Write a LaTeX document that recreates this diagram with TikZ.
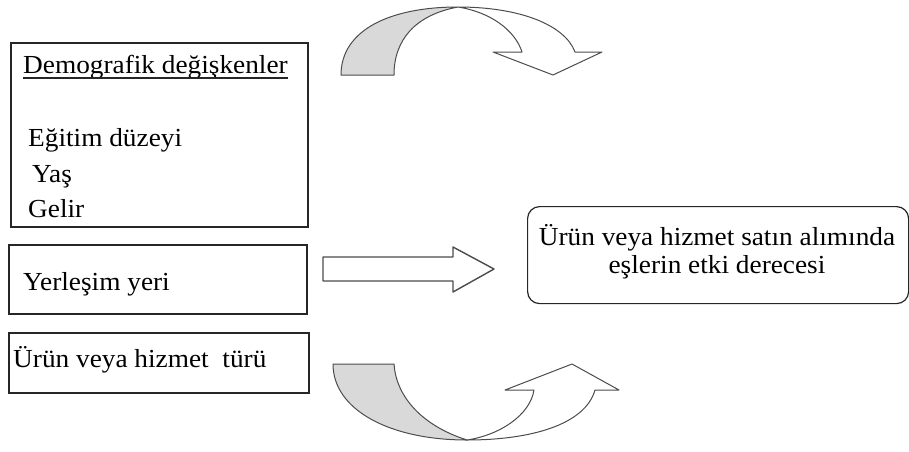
\documentclass[tikz,border=0pt]{standalone}
\usepackage{fontspec}
\setmainfont[FakeStretch=1.05]{Liberation Serif}
\begin{document}
\begin{tikzpicture}[x=1pt,y=-1pt,
  box/.style={draw=black!85, line width=1.6pt, inner sep=0pt, anchor=north west},
  rbox/.style={draw=black!85, line width=1.2pt, rounded corners=12pt, inner sep=0pt, anchor=north west},
  txt/.style={inner sep=0pt, anchor=base west, font=\fontsize{26}{30}\selectfont},
  ctxt/.style={inner sep=0pt, anchor=base, font=\fontsize{26}{30}\selectfont},
  blk/.style={draw=black!70, line width=1pt, line join=round},
  shade/.style={blk, fill=black!15},
  hollow/.style={blk, fill=white}]
\useasboundingbox (0,0) rectangle (909,451);
% boxes
\node[box, minimum width=297pt, minimum height=184pt] (demo) at (10,42) {};
\node[box, minimum width=298pt, minimum height=69pt] (yer) at (8,244) {};
\node[box, minimum width=300pt, minimum height=60pt] (tur) at (8,332) {};
\node[rbox, minimum width=381pt, minimum height=97pt] (res) at (527,206) {};
% texts
\node[txt] (t1) at (23,73) {Demografik değişkenler};
\draw[line width=1.4pt, black!85] ([yshift=-5pt]t1.base west) -- ([yshift=-5pt]t1.base east);
\node[txt] (t2) at (28,146) {Eğitim düzeyi};
\node[txt] (t3) at (32,182) {Yaş};
\node[txt] (t4) at (28,217) {Gelir};
\node[txt] (t5) at (23,290) {Yerleşim yeri};
\node[txt] (t6) at (13,367) {Ürün veya hizmet\ \ türü};
\node[ctxt] (t7) at (717,245) {Ürün veya hizmet satın alımında};
\node[ctxt] (t8) at (717,273) {eşlerin etki derecesi};
% straight block arrow
\draw[blk, line width=1.4pt, fill=white] (323,257) -- (453,257) -- (453,247) -- (494,269) -- (453,292) -- (453,281) -- (323,281) -- cycle;
% top curved arrow
\draw[hollow] (458,7) .. controls (520,7) and (565,25) .. (575,52) -- (602,52) -- (553,75) -- (493,52) -- (522,52)
  .. controls (515,30) and (490,12) .. (458,7) -- cycle;
\draw[shade] (341,75) .. controls (341,30) and (390,7) .. (458,7)
  .. controls (415,15) and (394,40) .. (394,75) -- cycle;
% bottom curved arrow
\draw[hollow] (467,440) .. controls (530,440) and (585,425) .. (595,390) -- (619,390) -- (572,364) -- (505,390) -- (534,390)
  .. controls (530,415) and (500,435) .. (467,440) -- cycle;
\draw[shade] (333,364) .. controls (333,410) and (390,440) .. (467,440)
  .. controls (420,425) and (396,395) .. (394,364) -- cycle;
\end{tikzpicture}
\end{document}
